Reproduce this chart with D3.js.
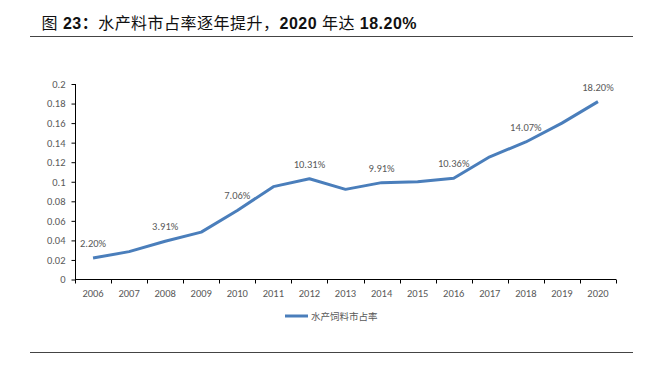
<!DOCTYPE html>
<html><head><meta charset="utf-8">
<script src="https://cdn.jsdelivr.net/npm/d3@7"></script>
<style>body{margin:0;background:#fff}svg{display:block}</style>
</head><body>
<svg id="c" width="662" height="384"></svg>
<script>
const years = ["2006","2007","2008","2009","2010","2011","2012","2013","2014","2015","2016","2017","2018","2019","2020"];
const share = [0.022,0.0285,0.0391,0.0485,0.0706,0.095,0.1031,0.0922,0.0991,0.1001,0.1036,0.1255,0.1407,0.160,0.182];
const labeled = ["2006","2008","2010","2012","2014","2016","2018","2020"];
const yTicks = [0,0.02,0.04,0.06,0.08,0.1,0.12,0.14,0.16,0.18,0.2];
const yTickLabels = ["0","0.02","0.04","0.06","0.08","0.1","0.12","0.14","0.16","0.18","0.2"];
const titleParts = [["图 ",false],["23：",true],["水产料市占率逐年提升，",false],["2020",true],[" 年达 ",false],["18.20%",true]];
const seriesName = "水产饲料市占率";

const svg = d3.select("#c");
const font = "Calibri, Carlito, 'Liberation Sans', 'Noto Sans CJK SC', sans-serif";
const t = svg.append("text").attr("x",41.5).attr("y",29).attr("font-family","'Liberation Sans', Arial, 'Noto Sans CJK SC', sans-serif")
  .attr("font-size",16).attr("fill","#111").attr("textLength",375).attr("lengthAdjust","spacing");
titleParts.forEach(p=>t.append("tspan").attr("font-weight",p[1]?"bold":"normal").text(p[0]));
svg.append("line").attr("x1",30).attr("x2",633).attr("y1",36.5).attr("y2",36.5).attr("stroke","#444").attr("stroke-width",1.2);
svg.append("line").attr("x1",30).attr("x2",633).attr("y1",352.5).attr("y2",352.5).attr("stroke","#444").attr("stroke-width",1.2);

const x = d3.scaleBand().domain(years).range([75,616]);
const y = d3.scaleLinear().domain([0,0.2]).range([279.5,84]);

const gy = svg.append("g").attr("transform","translate(75.5,0)")
  .call(d3.axisLeft(y).tickValues(yTicks).tickFormat((d,i)=>yTickLabels[i]).tickSize(4).tickPadding(6));
gy.select(".domain").attr("stroke","#000").attr("d","M0,84V279.5");
gy.selectAll(".tick line").attr("stroke","#000");
gy.selectAll("text").attr("font-family",font).attr("font-size",10.5).attr("fill","#595959");

const gx = svg.append("g").attr("transform","translate(0,279.5)")
  .call(d3.axisBottom(x).tickSize(0).tickPadding(10));
gx.select(".domain").attr("stroke","#000").attr("d","M75,0H616");
gx.selectAll("text").attr("font-family",font).attr("font-size",10.5).attr("fill","#595959");
const bounds = years.map(d=>x(d)).concat([616]);
gx.selectAll(".bt").data(bounds).enter().append("line")
  .attr("x1",d=>Math.round(d)+0.5).attr("x2",d=>Math.round(d)+0.5).attr("y1",0).attr("y2",4).attr("stroke","#000");

const cx = d => x(d)+x.bandwidth()/2;
const line = d3.line().x((d,i)=>cx(years[i])).y(d=>y(d));
svg.append("path").datum(share).attr("d",line).attr("fill","none").attr("stroke","#4A7EBB")
  .attr("stroke-width",3).attr("stroke-linejoin","round");

years.forEach((yr,i)=>{
  if(labeled.includes(yr)){
    svg.append("text").attr("x",cx(yr)).attr("y",y(share[i])-11).attr("text-anchor","middle")
      .attr("font-family",font).attr("font-size",10.5).attr("fill","#595959")
      .text((share[i]*100).toFixed(2)+"%");
  }
});

svg.append("line").attr("x1",285).attr("x2",308).attr("y1",316).attr("y2",316).attr("stroke","#4A7EBB").attr("stroke-width",3);
svg.append("text").attr("x",311).attr("y",320).attr("font-family","'Noto Sans CJK SC', sans-serif")
  .attr("font-size",9.5).attr("fill","#595959").text(seriesName);
</script>
</body></html>
